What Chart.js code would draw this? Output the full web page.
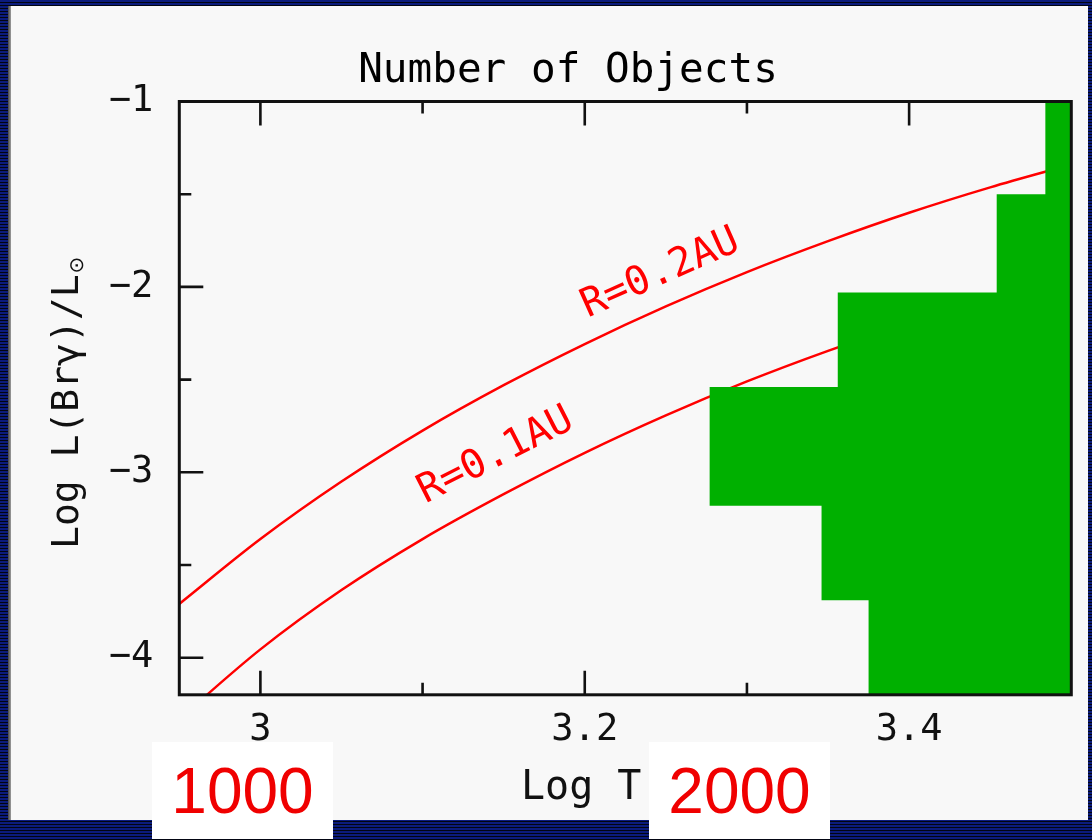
<!DOCTYPE html>
<html>
<head>
<meta charset="utf-8">
<script src="https://cdn.jsdelivr.net/npm/chart.js@4.4.1/dist/chart.umd.min.js"></script>
<style>
  html, body { margin: 0; padding: 0; }
  body {
    width: 1092px; height: 840px; overflow: hidden; position: relative;
    background: repeating-linear-gradient(to bottom, #0b1b7c 0px, #0b1b7c 2px, #020512 2px, #020512 3px);
  }
  #panel { position: absolute; left: 11px; top: 6px; width: 1077px; height: 814px; background: #f8f8f8; }
  #edge { position: absolute; left: 8px; top: 6px; width: 3px; height: 814px; background: linear-gradient(to right, #444, #a0a0a0); }
  #wrap { position: absolute; left: 0; top: 0; width: 1092px; height: 840px; }
  .tag {
    position: absolute; top: 742px; width: 181px; height: 97px; background: #fff;
    color: #f00000; font: 64px "Liberation Sans", Arial, sans-serif;
    display: flex; align-items: center; justify-content: center;
  }
</style>
</head>
<body>
<div id="panel"></div>
<div id="edge"></div>
<div id="wrap"><canvas id="c"></canvas></div>
<div class="tag" style="left:152px">1000</div>
<div class="tag" style="left:649px">2000</div>
<script>
// Axis ranges and tick marks
const xMin = 2.95, xMax = 3.5;
const yMin = -4.2, yMax = -1;
const xTickValues = [3, 3.2, 3.4];
const xTickLabels = ['3', '3.2', '3.4'];
const xMinorTicks = [3.1, 3.3];
const yTickValues = [-1, -2, -3, -4];
const yTickLabels = ['\u22121', '\u22122', '\u22123', '\u22124'];
const yMinorTicks = [-1.5, -2.5, -3.5];

// Br-gamma luminosity curves for two emitting radii
const logT   = [2.95, 3.00, 3.05, 3.10, 3.15, 3.20, 3.25, 3.30, 3.35, 3.40, 3.45, 3.50];
const lumR02 = [-3.710, -3.360, -3.050, -2.775, -2.530, -2.308, -2.105, -1.920, -1.753, -1.600, -1.463, -1.340];
const lumR01 = [-4.330, -3.955, -3.635, -3.360, -3.118, -2.895, -2.693, -2.510, -2.345, -2.195, -2.060, -1.938];

// Histogram of objects: bin edges in log L and left end of each bar (bars grow from the right axis)
const binEdges = [-4.2, -3.69, -3.18, -2.54, -2.03, -1.50, -1.0];
const binLeft  = [3.375, 3.346, 3.277, 3.356, 3.454, 3.484];

const histOutline = [{ x: xMax, y: binEdges[0] }];
binLeft.forEach((left, i) => {
  histOutline.push({ x: left, y: binEdges[i] }, { x: left, y: binEdges[i + 1] });
});
histOutline.push({ x: xMax, y: binEdges[binEdges.length - 1] });

const MONO = '"DejaVu Sans Mono", "Liberation Mono", monospace';

const framePlugin = {
  id: 'frame',
  beforeDatasetsDraw(chart) {
    const { ctx, chartArea: a, scales: { x, y } } = chart;
    ctx.save();
    ctx.strokeStyle = '#111';
    ctx.lineWidth = 2.6;
    ctx.beginPath();
    const xt = (v, len) => {
      const p = x.getPixelForValue(v);
      ctx.moveTo(p, a.bottom); ctx.lineTo(p, a.bottom - len);
      ctx.moveTo(p, a.top); ctx.lineTo(p, a.top + len);
    };
    const yt = (v, len) => {
      const p = y.getPixelForValue(v);
      ctx.moveTo(a.left, p); ctx.lineTo(a.left + len, p);
      ctx.moveTo(a.right, p); ctx.lineTo(a.right - len, p);
    };
    xTickValues.forEach(v => xt(v, 24));
    xMinorTicks.forEach(v => xt(v, 12));
    yTickValues.forEach(v => yt(v, 24));
    yMinorTicks.forEach(v => yt(v, 12));
    ctx.stroke();
    ctx.restore();
  },
  afterDatasetsDraw(chart) {
    const { ctx, chartArea: a } = chart;
    ctx.save();
    ctx.strokeStyle = '#111';
    ctx.lineWidth = 3;
    ctx.strokeRect(a.left, a.top, a.width, a.height);
    ctx.restore();
  },
  afterDraw(chart, args, opts) {
    const { ctx, scales: { x, y } } = chart;
    ctx.save();
    ctx.fillStyle = '#111';
    // x axis title
    ctx.font = '40px ' + MONO;
    ctx.textAlign = 'left';
    ctx.textBaseline = 'alphabetic';
    ctx.fillText('Log T', 521, 799);
    // y axis title with subscript sun symbol
    ctx.save();
    ctx.translate(78, 549);
    ctx.rotate(-Math.PI / 2);
    ctx.font = '38px ' + MONO;
    const main = 'Log L(Br\u03b3)/L';
    ctx.fillText(main, 0, 0);
    const w = ctx.measureText(main).width;
    ctx.font = '20px "DejaVu Sans", sans-serif';
    ctx.fillText('\u2299', w + 1, 5);
    ctx.restore();
    // curve labels
    ctx.fillStyle = '#ff0000';
    ctx.font = '40px ' + MONO;
    ctx.textAlign = 'center';
    ctx.textBaseline = 'middle';
    opts.labels.forEach(l => {
      ctx.save();
      ctx.translate(x.getPixelForValue(l.x), y.getPixelForValue(l.y));
      ctx.rotate(l.angle * Math.PI / 180);
      ctx.fillText(l.text, 0, 0);
      ctx.restore();
    });
    ctx.restore();
  }
};

new Chart(document.getElementById('c'), {
  type: 'line',
  data: {
    datasets: [
      {
        label: 'Number of objects',
        data: histOutline,
        order: 0,
        borderWidth: 0,
        backgroundColor: '#00b000',
        fill: 'shape',
        tension: 0,
        pointRadius: 0
      },
      {
        label: 'R=0.2AU',
        data: logT.map((t, i) => ({ x: t, y: lumR02[i] })),
        order: 1,
        borderColor: '#ff0000',
        borderWidth: 2.5,
        fill: false,
        cubicInterpolationMode: 'monotone',
        pointRadius: 0
      },
      {
        label: 'R=0.1AU',
        data: logT.map((t, i) => ({ x: t, y: lumR01[i] })),
        order: 1,
        borderColor: '#ff0000',
        borderWidth: 2.5,
        fill: false,
        cubicInterpolationMode: 'monotone',
        pointRadius: 0
      }
    ]
  },
  options: {
    responsive: true,
    maintainAspectRatio: false,
    animation: false,
    devicePixelRatio: 1,
    layout: { padding: { left: 64.7, right: 20.7, top: 0, bottom: 0 } },
    plugins: {
      legend: { display: false },
      tooltip: { enabled: false },
      title: {
        display: true,
        text: 'Number of Objects',
        color: '#000',
        font: { family: MONO, size: 41, weight: 'normal', lineHeight: 1.2 },
        padding: { top: 47, bottom: 5.3 }
      },
      frame: {
        labels: [
          { text: 'R=0.2AU', x: 3.2467, y: -1.930, angle: -24 },
          { text: 'R=0.1AU', x: 3.1452, y: -2.912, angle: -27 }
        ]
      }
    },
    scales: {
      x: {
        type: 'linear',
        min: xMin, max: xMax,
        grid: { display: false, drawTicks: false },
        border: { display: false },
        afterBuildTicks: s => { s.ticks = xTickValues.map(v => ({ value: v })); },
        afterFit: s => { s.height = 145.2; },
        ticks: {
          callback: v => xTickLabels[xTickValues.indexOf(v)],
          padding: 13,
          color: '#111',
          maxRotation: 0,
          autoSkip: false,
          font: { family: MONO, size: 37 }
        }
      },
      y: {
        type: 'linear',
        min: yMin, max: yMax,
        grid: { display: false, drawTicks: false },
        border: { display: false },
        afterBuildTicks: s => { s.ticks = yTickValues.map(v => ({ value: v })); },
        afterFit: s => { s.width = 114.6; },
        ticks: {
          callback: v => yTickLabels[yTickValues.indexOf(v)],
          padding: 26,
          color: '#111',
          autoSkip: false,
          font: { family: MONO, size: 37 }
        }
      }
    }
  },
  plugins: [framePlugin]
});
</script>
</body>
</html>
